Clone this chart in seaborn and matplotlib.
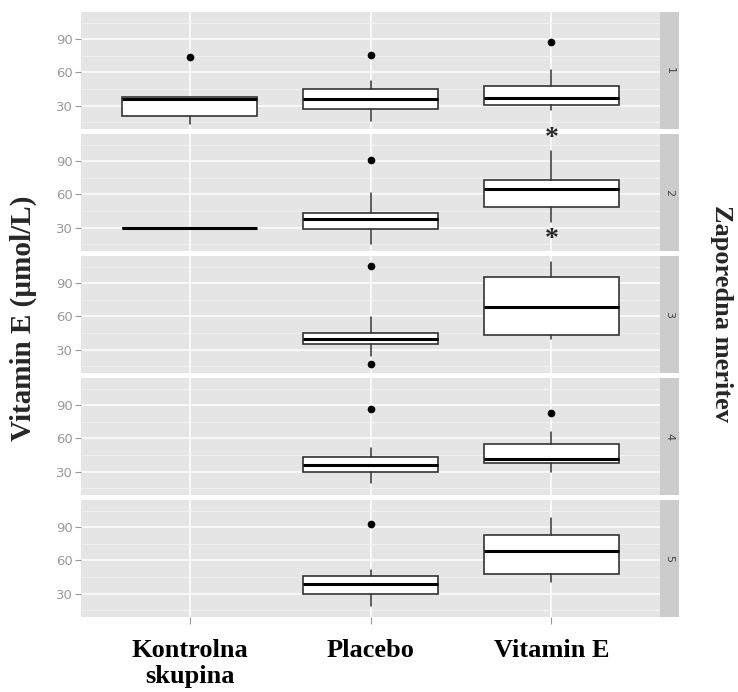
import numpy as np
import matplotlib
matplotlib.use("Agg")
import matplotlib.pyplot as plt
import seaborn as sns
from matplotlib.ticker import FixedLocator

nan = np.nan

groups = ["Kontrolna\nskupina", "Placebo", "Vitamin E"]
meritve = ["1", "2", "3", "4", "5"]

# box statistics, rows = meritev, cols = group
q1 = [[20.3, 27.0, 30.8],
      [29.5, 29.1, 48.6],
      [nan, 35.2, 43.3],
      [nan, 30.0, 37.3],
      [nan, 30.0, 47.7]]
med = [[35.7, 36.0, 36.8],
       [29.5, 38.1, 65.1],
       [nan, 39.7, 68.9],
       [nan, 35.7, 41.5],
       [nan, 38.7, 68.9]]
q3 = [[37.3, 45.2, 47.3],
      [29.5, 43.5, 72.6],
      [nan, 45.1, 95.4],
      [nan, 43.6, 54.5],
      [nan, 46.3, 83.4]]
whislo = [[13.6, 15.8, 26.3],
          [29.5, 14.7, 35.0],
          [nan, 23.9, 39.7],
          [nan, 19.6, 29.4],
          [nan, 18.5, 40.5]]
whishi = [[37.3, 52.4, 62.3],
          [29.5, 61.2, 99.6],
          [nan, 59.2, 109.0],
          [nan, 51.5, 66.0],
          [nan, 51.1, 98.4]]
outliers = [[[73.9], [75.9], [87.6]],
            [[], [91.5], []],
            [[], [106.0, 17.0], []],
            [[], [86.4], [83.3]],
            [[], [93.0], []]]

# significance marks (panel index, group index, value)
star_panel = 1
star_group = 2
star_y = [110.4, 19.2]

yticks = [30, 60, 90]
yminor = [15, 45, 75, 105]

sns.set_theme(style="darkgrid", rc={"axes.facecolor": "#E5E5E5",
                                    "grid.color": "white"})

W, H = 738, 692
fig = plt.figure(figsize=(W / 100, H / 100), dpi=100)

serif = ["Liberation Serif", "DejaVu Serif"]
left, width = 81, 579
top0, ph, gap = 12, 117, 5

for i, m in enumerate(meritve):
    top = top0 + i * (ph + gap)
    ax = fig.add_axes([left / W, 1 - (top + ph) / H, width / W, ph / H])
    ax.set_facecolor("#E5E5E5")
    stats = []
    pos = []
    for j in range(len(groups)):
        if np.isnan(med[i][j]):
            continue
        stats.append(dict(med=med[i][j], q1=q1[i][j], q3=q3[i][j],
                          whislo=whislo[i][j], whishi=whishi[i][j],
                          fliers=outliers[i][j]))
        pos.append(j)
    ax.bxp(stats, positions=pos, widths=0.75, patch_artist=True,
           showcaps=False,
           boxprops=dict(facecolor="white", edgecolor="#333333", linewidth=1.2),
           medianprops=dict(color="black", linewidth=2.2),
           whiskerprops=dict(color="#333333", linewidth=1.1),
           flierprops=dict(marker="o", markerfacecolor="black",
                           markeredgecolor="black", markersize=4.5))
    if i == star_panel:
        for yv in star_y:
            ax.text(star_group, yv, "*", ha="center", va="center",
                    fontsize=20, fontweight="bold", family=serif)

    ax.set_xlim(-0.6, 2.6)
    ax.set_ylim(8.8, 114.6)
    ax.set_yticks(yticks)
    ax.yaxis.set_minor_locator(FixedLocator(yminor))
    ax.grid(which="major", color="white", linewidth=1.1)
    ax.grid(which="minor", axis="y", color="#F2F2F2", linewidth=0.6)
    ax.set_axisbelow(True)
    for s in ax.spines.values():
        s.set_visible(False)
    ax.tick_params(axis="y", which="major", length=4, width=0.8,
                   color="#999999", labelcolor="#9A9A9A", labelsize=9.5,
                   pad=2, left=True)
    ax.tick_params(axis="y", which="minor", length=0)
    ax.set_xticks([0, 1, 2])
    if i < len(meritve) - 1:
        ax.tick_params(axis="x", length=0, labelbottom=False)
    else:
        ax.set_xticklabels(groups, fontsize=19, fontweight="bold",
                           family=serif, linespacing=1.15)
        ax.tick_params(axis="x", length=5, width=0.8, color="#999999",
                       pad=11, bottom=True, labelcolor="black")

    # facet strip on the right
    sax = fig.add_axes([(left + width) / W, 1 - (top + ph) / H, 19 / W, ph / H])
    sax.set_facecolor("#CCCCCC")
    sax.set_xticks([])
    sax.set_yticks([])
    for s in sax.spines.values():
        s.set_visible(False)
    sax.text(0.5, 0.5, m, rotation=-90, ha="center", va="center",
             fontsize=8, color="#444444", transform=sax.transAxes)

fig.text(23 / W, 1 - 318 / H, "Vitamin E (µmol/L)", rotation=90,
         ha="center", va="center", fontsize=21, fontweight="bold", family=serif)
fig.text(722 / W, 1 - 313 / H, "Zaporedna meritev", rotation=-90,
         ha="center", va="center", fontsize=19, fontweight="bold", family=serif)

fig.savefig("out.png", dpi=100)
